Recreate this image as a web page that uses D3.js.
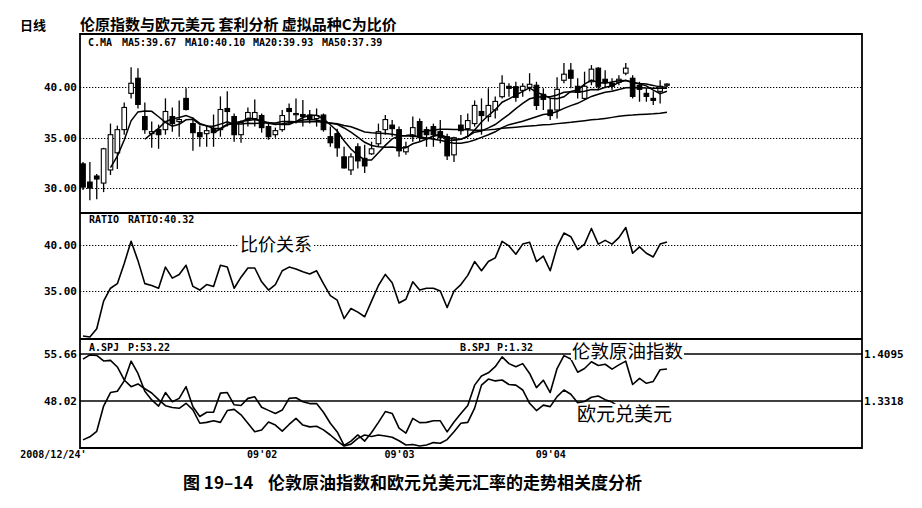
<!DOCTYPE html>
<html><head><meta charset="utf-8">
<script src="https://cdn.jsdelivr.net/npm/d3@7"></script>
<style>body{margin:0;background:#fff}</style>
</head><body><svg id="c" width="922" height="508"></svg>
<script>
// ---------- data ----------
const opens = [32.4,30.6,31.2,30.5,31.8,33.5,35.8,39.4,40.9,37.1,
 35.4,35.8,35.8,37.1,36.6,38.9,36.4,35.5,35.4,35.9,
 35.8,37.9,37.1,35.3,36.8,36.9,37.2,36.1,35.3,35.8,
 37.9,37.3,37.3,37.25,36.9,37.25,35.1,35.4,33.1,31.8,
 34.1,32.95,33.4,34.4,35.8,36.25,35.8,33.6,35.1,36.6,
 35.8,36.1,35.6,35.1,33.3,36.25,35.9,36.4,37.6,37.1,
 37.75,39.07,40.1,40.06,39.7,40.0,40.2,39.3,37.75,37.75,
 40.7,41.7,40.1,38.9,40.55,41.9,40.8,40.4,40.5,41.4,
 40.9,40.2,39.4,38.9,39.6,40.2];
const highs = [32.6,32.6,31.4,34.0,36.4,36.2,38.5,42.0,41.9,38.5,
 36.6,36.3,38.9,38.0,38.7,39.9,37.0,36.2,36.2,37.3,
 39.1,39.6,37.4,36.7,38.0,38.8,37.4,36.4,36.0,37.75,
 38.4,38.9,38.74,37.75,37.9,37.4,36.1,35.9,34.1,33.45,
 34.45,34.3,34.6,36.4,37.25,36.75,36.1,34.6,37.1,36.9,
 36.1,36.4,36.75,35.4,35.1,37.25,37.4,38.7,38.9,39.9,
 39.1,41.2,40.4,40.55,40.4,41.4,40.55,39.9,38.9,41.0,
 42.4,42.4,40.9,41.55,42.2,42.0,41.7,40.9,41.2,42.4,
 41.2,40.55,39.9,39.6,40.7,40.4];
const lows = [29.8,28.8,28.9,29.6,31.3,31.9,35.3,38.9,37.9,35.4,
 34.0,33.9,35.3,35.6,35.1,37.7,33.7,34.1,34.1,34.1,
 35.1,36.1,34.6,34.5,36.1,36.1,35.5,34.8,35.0,35.6,
 36.25,36.4,36.1,36.4,36.1,35.6,34.1,33.1,31.95,31.3,
 31.95,31.5,33.3,34.1,35.3,35.1,33.1,33.3,34.6,34.6,
 34.1,34.1,34.45,32.8,32.6,35.3,35.1,36.1,35.3,36.6,
 36.9,38.9,39.07,38.57,39.07,39.6,37.75,37.75,36.75,36.9,
 40.4,39.9,38.9,38.74,40.2,39.7,39.9,39.7,40.2,41.2,
 38.9,38.57,38.57,38.24,38.4,40.0];
const closes = [30.1,30.0,30.9,33.9,35.3,35.8,38.0,40.4,38.3,35.8,
 35.6,35.3,37.6,36.4,36.8,37.8,35.5,35.1,35.7,35.5,
 37.8,37.6,35.3,36.5,37.5,37.5,36.0,35.1,35.7,37.2,
 37.6,37.4,37.1,36.85,37.2,35.8,34.5,34.0,32.0,33.1,
 32.7,32.2,33.9,35.6,36.8,35.9,33.7,34.1,36.0,35.1,
 35.3,35.3,35.0,33.2,35.0,35.7,36.7,38.2,37.2,38.2,
 38.6,40.4,39.9,39.0,40.1,40.3,38.2,38.8,37.2,39.8,
 41.3,40.9,39.5,40.1,41.8,40.1,40.5,40.1,40.8,41.9,
 39.1,39.8,39.1,38.7,40.1,40.32];
const brent = [41.7,42.2,43.1,47.2,49.4,49.6,51.3,54.5,52.5,49.6,
 48.2,47.2,49.4,47.9,48.45,50.35,47.1,45.5,46.2,46.2,
 49.3,49.4,47.4,47.3,48.45,48.7,47.0,46.5,46.0,46.55,
 48.45,48.55,47.9,47.6,47.6,46.2,44.4,43.0,40.8,41.5,
 42.5,41.5,42.9,44.55,46.3,46.0,43.6,42.8,45.2,44.5,
 44.55,44.8,44.8,43.0,44.6,46.0,47.3,50.6,52.1,52.6,
 53.6,55.2,54.1,53.6,54.1,52.5,50.2,51.4,49.4,53.3,
 55.4,54.85,52.7,53.3,54.4,53.8,54.0,53.2,53.9,54.5,
 50.7,51.7,50.9,51.2,53.1,53.22];
const eurusd = [1.401,1.408,1.407,1.398,1.399,1.388,1.3665,1.3555,1.360,1.352,
 1.345,1.334,1.324,1.321,1.3197,1.328,1.317,1.295,1.2965,1.299,
 1.2965,1.316,1.318,1.309,1.295,1.281,1.284,1.297,1.292,1.282,
 1.293,1.303,1.292,1.289,1.290,1.284,1.2756,1.266,1.2573,1.2605,
 1.270,1.2756,1.273,1.2756,1.274,1.272,1.266,1.259,1.260,1.2573,
 1.259,1.263,1.262,1.268,1.281,1.295,1.2965,1.320,1.358,1.368,
 1.365,1.3665,1.359,1.358,1.350,1.328,1.316,1.325,1.3225,1.339,
 1.350,1.343,1.329,1.331,1.338,1.340,1.334,1.330,1.322,1.310,
 1.300,1.305,1.305,1.318,1.322,1.32];
const maPeriods = [5,10,20,50];
const maHeader = ["C.MA","MA5:39.67","MA10:40.10","MA20:39.93","MA50:37.39"];
const ratioHeader = ["RATIO","RATIO:40.32"];
const spjHeaderA = ["A.SPJ","P:53.22"];
const spjHeaderB = ["B.SPJ","P:1.32"];
const candleTicks = [30,35,40];
const ratioTicks = [35,40];
const brentTicks = [48.02,55.66];
const eurTicks = [1.3318,1.4095];
const dateTickIdx = [0,26,46,68];
const dateTickLabels = ["2008/12/24'","09'02","09'03","09'04"];
const titleLeft = "日线";
const titleMain = "伦原指数与欧元美元 套利分析 虚拟品种C为比价";
const ratioNote = "比价关系";
const brentNote = "伦敦原油指数";
const eurNote = "欧元兑美元";
const captionNum = "图 19–14";
const captionText = "伦敦原油指数和欧元兑美元汇率的走势相关度分析";

// ---------- layout ----------
const W=922,H=508, L=80, R=862;
const P1={top:35,bottom:213}, P2={top:213,bottom:338}, P3={top:340,bottom:448};
const MONO="'DejaVu Sans Mono', monospace";
const CJK="'Noto Sans CJK SC', sans-serif";

const svg=d3.select('#c');
svg.append('rect').attr('width',W).attr('height',H).attr('fill','#fff');
const idx=d3.range(closes.length);
const x=d3.scaleLinear().domain([0,closes.length-1]).range([83,667]);
const y1=d3.scaleLinear().domain([27.53,45.19]).range([P1.bottom,P1.top]);
const y2=d3.scaleLinear().domain([29.89,43.48]).range([P2.bottom,P2.top]);
const yA=d3.scaleLinear().domain([40.38,57.94]).range([P3.bottom,P3.top]);
const yB=d3.scaleLinear().domain([1.2541,1.4326]).range([P3.bottom,P3.top]);

const defs=svg.append('defs');
[['c1',P1],['c2',P2],['c3',P3]].forEach(([id,p])=>{
  defs.append('clipPath').attr('id',id).append('rect')
    .attr('x',L).attr('y',p.top).attr('width',R-L).attr('height',p.bottom-p.top);
});

// gridlines
function dotted(scale,ticks){
  svg.append('g').selectAll('line').data(ticks).join('line')
    .attr('x1',L).attr('x2',R).attr('y1',d=>Math.round(scale(d))+0.5).attr('y2',d=>Math.round(scale(d))+0.5)
    .attr('stroke','#000').attr('stroke-width',1).attr('stroke-dasharray','1.3,1.7');
}
dotted(y1,candleTicks); dotted(y2,ratioTicks);
svg.append('g').selectAll('line').data(brentTicks).join('line')
  .attr('x1',L).attr('x2',R).attr('y1',d=>yA(d)).attr('y2',d=>yA(d))
  .attr('stroke','#000').attr('stroke-width',1.4);

// candles
const g1=svg.append('g').attr('clip-path','url(#c1)');
g1.selectAll('line').data(idx).join('line')
  .attr('x1',i=>x(i)).attr('x2',i=>x(i))
  .attr('y1',i=>y1(highs[i])).attr('y2',i=>y1(lows[i]))
  .attr('stroke','#000').attr('stroke-width',1.3);
g1.selectAll('rect').data(idx).join('rect')
  .attr('x',i=>x(i)-2.3).attr('width',4.6)
  .attr('y',i=>y1(Math.max(opens[i],closes[i])))
  .attr('height',i=>Math.max(1.2,Math.abs(y1(opens[i])-y1(closes[i]))))
  .attr('fill',i=>closes[i]>opens[i]?'#fff':'#000')
  .attr('stroke','#000').attr('stroke-width',1.1);
function ma(p){return idx.map(i=>i<p-1?null:d3.mean(closes.slice(i-p+1,i+1)));}
const lineMA=d3.line().defined(d=>d[1]!=null).x(d=>x(d[0])).y(d=>y1(d[1]));
maPeriods.forEach(p=>{
  const v=ma(p);
  g1.append('path').datum(idx.map(i=>[i,v[i]])).attr('d',lineMA)
    .attr('fill','none').attr('stroke','#000').attr('stroke-width',1.5);
});

// ratio line
svg.append('g').attr('clip-path','url(#c2)').append('path')
  .datum(idx).attr('d',d3.line().x(i=>x(i)).y(i=>y2(closes[i])))
  .attr('fill','none').attr('stroke','#000').attr('stroke-width',1.6).attr('stroke-linejoin','round');

// panel 3 lines
const g3=svg.append('g').attr('clip-path','url(#c3)');
g3.append('path').datum(idx).attr('d',d3.line().x(i=>x(i)).y(i=>yA(brent[i])))
  .attr('fill','none').attr('stroke','#000').attr('stroke-width',1.6).attr('stroke-linejoin','round');
g3.append('path').datum(idx).attr('d',d3.line().x(i=>x(i)).y(i=>yB(eurusd[i])))
  .attr('fill','none').attr('stroke','#000').attr('stroke-width',1.6).attr('stroke-linejoin','round');

// frame
const frame=svg.append('g').attr('stroke','#000').attr('fill','none');
frame.append('line').attr('x1',L).attr('x2',R).attr('y1',34).attr('y2',34).attr('stroke-width',2.2);
frame.append('line').attr('x1',L).attr('x2',R).attr('y1',P1.bottom).attr('y2',P1.bottom).attr('stroke-width',1.8);
frame.append('line').attr('x1',L).attr('x2',R).attr('y1',339).attr('y2',339).attr('stroke-width',2.2);
frame.append('line').attr('x1',L).attr('x2',R).attr('y1',P3.bottom).attr('y2',P3.bottom).attr('stroke-width',1.8);
frame.append('line').attr('x1',L).attr('x2',L).attr('y1',33).attr('y2',P3.bottom+1).attr('stroke-width',1.8);
frame.append('line').attr('x1',R).attr('x2',R).attr('y1',33).attr('y2',P3.bottom+1).attr('stroke-width',1.8);

// axes
function styleAxis(g,size){
  g.select('.domain').remove();
  g.selectAll('text').attr('font-family',MONO).attr('font-weight','bold').attr('font-size',size).attr('fill','#000');
}
svg.append('g').attr('transform',`translate(${L-1},0)`)
  .call(d3.axisLeft(y1).tickValues(candleTicks).tickFormat(d3.format('.2f')).tickSize(0).tickPadding(2))
  .call(g=>styleAxis(g,11));
svg.append('g').attr('transform',`translate(${L-1},0)`)
  .call(d3.axisLeft(y2).tickValues(ratioTicks).tickFormat(d3.format('.2f')).tickSize(0).tickPadding(2))
  .call(g=>styleAxis(g,11));
svg.append('g').attr('transform',`translate(${L-1},0)`)
  .call(d3.axisLeft(yA).tickValues(brentTicks).tickFormat(d3.format('.2f')).tickSize(0).tickPadding(2))
  .call(g=>styleAxis(g,11));
svg.append('g').attr('transform',`translate(${R+1},0)`)
  .call(d3.axisRight(yB).tickValues(eurTicks).tickFormat(d3.format('.4f')).tickSize(0).tickPadding(1))
  .call(g=>styleAxis(g,11));
const xa=svg.append('g').attr('transform',`translate(0,${P3.bottom})`)
  .call(d3.axisBottom(x).tickValues(dateTickIdx).tickFormat((d,i)=>dateTickLabels[i]).tickSize(0).tickPadding(3))
  .call(g=>styleAxis(g,10));
xa.selectAll('text').filter((d,i)=>i===0).attr('text-anchor','end').attr('dx',3);

// header texts
function txt(s,xp,yp,size,fam,weight){
  return svg.append('text').attr('x',xp).attr('y',yp).attr('font-family',fam).attr('font-size',size)
    .attr('font-weight',weight||'bold').attr('fill','#000').text(s);
}
[88,122,185,253,322].forEach((xp,i)=>txt(maHeader[i],xp,46,10,MONO));
[89,128].forEach((xp,i)=>txt(ratioHeader[i],xp,223,10,MONO));
[89,128].forEach((xp,i)=>txt(spjHeaderA[i],xp,351,10,MONO));
[460,497].forEach((xp,i)=>txt(spjHeaderB[i],xp,351,10,MONO));

txt(titleLeft,20,30,13,CJK);
txt(titleMain,80,30,15,CJK);

function note(s,xp,yp,size){
  const t=txt(s,xp,yp,size,CJK,'normal');
  const b=t.node().getBBox();
  svg.insert('rect',()=>t.node()).attr('x',b.x-1).attr('y',yp-size*0.9)
    .attr('width',b.width+2).attr('height',size*1.0).attr('fill','#fff');
}
note(ratioNote,240,251,18);
note(brentNote,572,358,18.5);
note(eurNote,577,421,19);

txt(captionNum,183,489,17,CJK);
txt(captionText,268,489,17,CJK);
</script></body></html>
